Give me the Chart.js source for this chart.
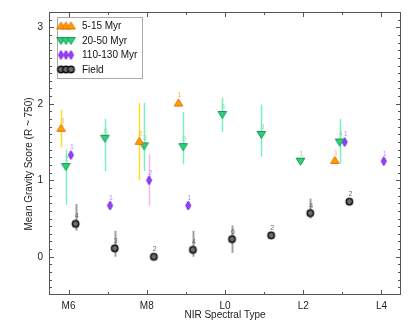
<!DOCTYPE html>
<html>
<head>
<meta charset="utf-8">
<script src="https://cdn.jsdelivr.net/npm/chart.js@4.4.1/dist/chart.umd.min.js"></script>
<style>
html, body { margin: 0; padding: 0; background: #fff; }
#wrap { width: 411px; height: 329px; }
</style>
</head>
<body>
<div id="wrap"><canvas id="gravityChart"></canvas></div>
<script>
"use strict";

// spectral type: 6 = M6 ... 10 = L0 ... 14 = L4
const xTickValues = [6, 8, 10, 12, 14];
const xTickLabels = ['M6', 'M8', 'L0', 'L2', 'L4'];
const yTickValues = [0, 1, 2, 3];

const youngTypes = [6, 8, 9, 13];
const youngScore = [1.68, 1.51, 2.01, 1.26];
const youngLow   = [1.43, 1.00, null, null];
const youngHigh  = [1.92, 2.01, null, null];
const youngCount = [3, 2, 1, 1];

const midTypes = [6, 7, 8, 9, 10, 11, 12, 13];
const midScore = [1.18, 1.55, 1.45, 1.44, 1.86, 1.60, 1.25, 1.50];
const midLow   = [0.68, 1.12, 1.12, 1.21, 1.63, 1.31, null, 1.22];
const midHigh  = [1.40, 1.80, 2.01, 1.89, 2.08, 1.99, null, 1.80];
const midCount = [2, 6, 3, 9, 4, 8, 1, 4];

const oldTypes = [6, 7, 8, 9, 13, 14];
const oldScore = [1.33, 0.67, 1.00, 0.67, 1.50, 1.25];
const oldLow   = [null, null, 0.67, null, null, null];
const oldHigh  = [null, null, 1.34, null, null, null];
const oldCount = [1, 1, 2, 1, 1, 1];

const fieldTypes = [6, 7, 8, 9, 10, 11, 12, 13];
const fieldScore = [0.43, 0.11, 0.00, 0.09, 0.23, 0.28, 0.57, 0.72];
const fieldLow   = [0.34, 0.00, null, 0.00, 0.05, null, 0.50, null];
const fieldHigh  = [0.69, 0.34, null, 0.34, 0.41, null, 0.76, null];
const fieldCount = [4, 3, 2, 4, 6, 2, 4, 2];

function markerCanvas(kind, fill, stroke) {
    const c = document.createElement('canvas');
    c.width = 11; c.height = 11;
    const g = c.getContext('2d');
    g.fillStyle = fill;
    g.strokeStyle = stroke;
    g.lineWidth = 1;
    g.beginPath();
    if (kind === 'up') {
        g.moveTo(5.5, 1.5); g.lineTo(9.8, 8.5); g.lineTo(1.2, 8.5);
    } else if (kind === 'down') {
        g.moveTo(1.2, 2.5); g.lineTo(9.8, 2.5); g.lineTo(5.5, 9.5);
    } else if (kind === 'diamond') {
        g.moveTo(5.5, 1); g.lineTo(8, 5.5); g.lineTo(5.5, 10); g.lineTo(3, 5.5);
    } else {
        g.arc(5.5, 5.5, 3.2, 0, Math.PI * 2);
        g.lineWidth = 1.5;
    }
    g.closePath();
    g.fill();
    g.stroke();
    return c;
}

const series = [
    { label: '5-15 Myr', types: youngTypes, score: youngScore, low: youngLow, high: youngHigh, count: youngCount,
      shift: -0.19, marker: markerCanvas('up', '#ff9d00', '#e86f00'), bar: '#ffdd22', text: '#ffb347', barWidth: 1.5 },
    { label: '20-50 Myr', types: midTypes, score: midScore, low: midLow, high: midHigh, count: midCount,
      shift: -0.07, marker: markerCanvas('down', '#2fd07a', '#139a55'), bar: '#78f0bf', text: '#8fd8b0', barWidth: 1.5 },
    { label: '110-130 Myr', types: oldTypes, score: oldScore, low: oldLow, high: oldHigh, count: oldCount,
      shift: 0.06, marker: markerCanvas('diamond', '#9a3dff', '#7420d8'), bar: '#f2b6ef', text: '#c08cff', barWidth: 1.5 },
    { label: 'Field', types: fieldTypes, score: fieldScore, low: fieldLow, high: fieldHigh, count: fieldCount,
      shift: 0.18, marker: markerCanvas('circle', '#6e6e6e', '#111'), bar: '#a0a0a0', text: '#666', barWidth: 2 }
];

const datasets = series.map((s) => ({
    label: s.label,
    data: s.types.map((t, i) => ({ x: t + s.shift, y: s.score[i] })),
    pointStyle: s.marker,
    pointRadius: 5,
    pointHoverRadius: 5,
    showLine: false
}));

const fontFamily = '"Liberation Sans", Arial, Helvetica, sans-serif';

const decorPlugin = {
    id: 'decor',
    beforeDatasetsDraw(chart) {
        const { ctx, chartArea: a, scales: { x, y } } = chart;
        ctx.save();
        // error bars
        series.forEach((s) => {
            ctx.strokeStyle = s.bar;
            ctx.lineWidth = s.barWidth;
            s.types.forEach((t, i) => {
                if (s.low[i] === null) return;
                const px = Math.round(x.getPixelForValue(t + s.shift)) + 0.5;
                ctx.beginPath();
                ctx.moveTo(px, y.getPixelForValue(s.low[i]));
                ctx.lineTo(px, y.getPixelForValue(s.high[i]));
                ctx.stroke();
            });
        });
        // frame and inward ticks
        ctx.strokeStyle = '#555';
        ctx.lineWidth = 1;
        ctx.strokeRect(a.left + 0.5, a.top + 0.5, a.right - a.left - 1, a.bottom - a.top - 1);
        ctx.beginPath();
        for (let v = 6; v <= 14; v++) {
            const px = Math.round(x.getPixelForValue(v)) + 0.5;
            const len = v % 2 === 0 ? 5 : 3;
            ctx.moveTo(px, a.bottom); ctx.lineTo(px, a.bottom - len);
            ctx.moveTo(px, a.top); ctx.lineTo(px, a.top + len);
        }
        for (let k = -4; k <= 31; k++) {
            const py = Math.round(y.getPixelForValue(k / 10)) + 0.5;
            const len = k % 10 === 0 ? 5 : 3;
            ctx.moveTo(a.left, py); ctx.lineTo(a.left + len, py);
            ctx.moveTo(a.right, py); ctx.lineTo(a.right - len, py);
        }
        ctx.stroke();
        ctx.restore();
    },
    afterDatasetsDraw(chart) {
        const { ctx, scales: { x, y } } = chart;
        ctx.save();
        // star counts above each marker
        ctx.font = '7px ' + fontFamily;
        ctx.textAlign = 'center';
        ctx.textBaseline = 'bottom';
        series.forEach((s) => {
            ctx.fillStyle = s.text;
            s.types.forEach((t, i) => {
                ctx.fillText(String(s.count[i]), x.getPixelForValue(t + s.shift) + 1, y.getPixelForValue(s.score[i]) - 4);
            });
        });
        // legend box inside the plot
        const lx = 57, ly = 17, lw = 85, lh = 61;
        ctx.fillStyle = '#fff';
        ctx.fillRect(lx, ly, lw, lh);
        ctx.strokeStyle = '#aaa';
        ctx.lineWidth = 1;
        ctx.strokeRect(lx + 0.5, ly + 0.5, lw, lh);
        ctx.font = '10px ' + fontFamily;
        ctx.textAlign = 'left';
        ctx.textBaseline = 'middle';
        series.forEach((s, i) => {
            const ry = ly + 9 + i * 14.5;
            [61, 66, 71].forEach((mx) => ctx.drawImage(s.marker, mx - 5.5, ry - 5.5));
            ctx.fillStyle = '#111';
            ctx.fillText(s.label, 82, ry + 0.5);
        });
        // y axis title
        ctx.translate(29, 164);
        ctx.rotate(-Math.PI / 2);
        ctx.textAlign = 'center';
        ctx.fillStyle = '#222';
        ctx.fillText('Mean Gravity Score (R ~ 750)', 0, 0);
        ctx.restore();
    }
};

const ctx = document.getElementById('gravityChart').getContext('2d');

new Chart(ctx, {
    type: 'scatter',
    data: { datasets: datasets },
    options: {
        responsive: true,
        maintainAspectRatio: false,
        animation: false,
        devicePixelRatio: 1,
        layout: { padding: { top: 7, right: 10, left: 0, bottom: 0 } },
        plugins: {
            legend: { display: false },
            tooltip: { enabled: false }
        },
        scales: {
            x: {
                type: 'linear',
                min: 5.5,
                max: 14.5,
                grid: { display: false, drawTicks: false },
                border: { display: false },
                afterBuildTicks: (scale) => { scale.ticks = xTickValues.map((v) => ({ value: v })); },
                afterFit: (scale) => { scale.height = 34; },
                ticks: {
                    color: '#222',
                    padding: 5,
                    maxRotation: 0,
                    font: { family: fontFamily, size: 10 },
                    callback: (v) => xTickLabels[xTickValues.indexOf(v)]
                },
                title: {
                    display: true,
                    text: 'NIR Spectral Type',
                    color: '#222',
                    padding: { top: 0, bottom: 8 },
                    font: { family: fontFamily, size: 10 }
                }
            },
            y: {
                type: 'linear',
                min: -0.5,
                max: 3.2,
                grid: { display: false, drawTicks: false },
                border: { display: false },
                afterBuildTicks: (scale) => { scale.ticks = yTickValues.map((v) => ({ value: v })); },
                afterFit: (scale) => { scale.width = 49; },
                ticks: {
                    color: '#222',
                    padding: 6,
                    font: { family: fontFamily, size: 10 },
                    callback: (v) => String(v)
                }
            }
        }
    },
    plugins: [decorPlugin]
});
</script>
</body>
</html>
